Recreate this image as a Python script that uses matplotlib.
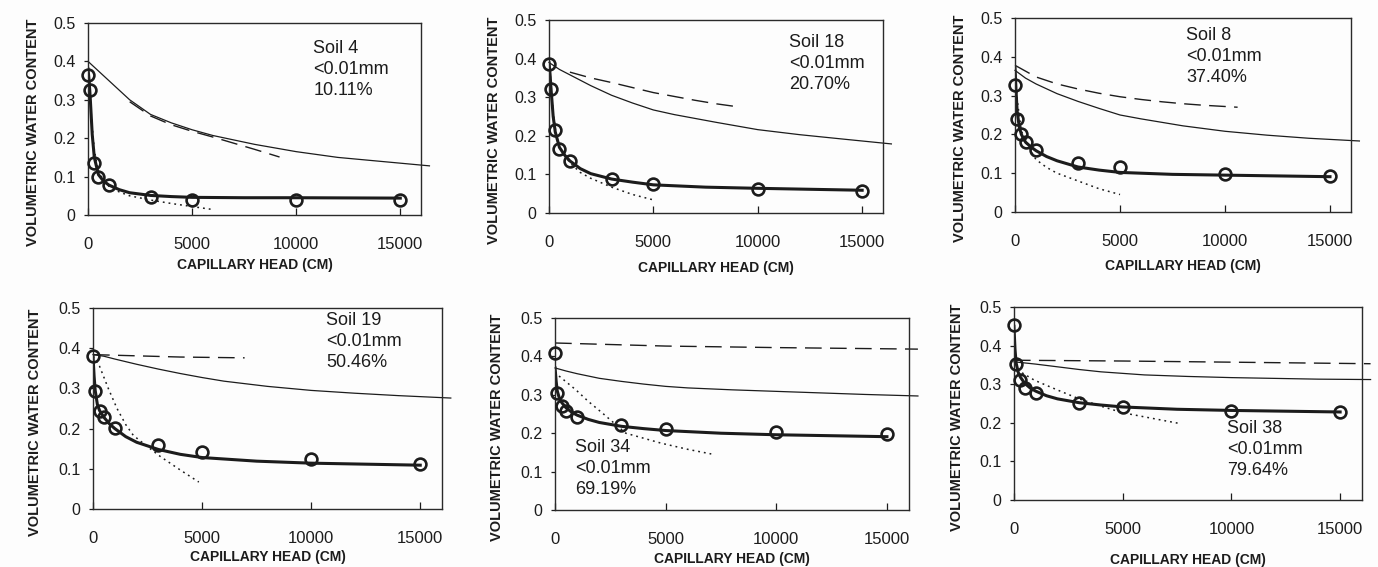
import matplotlib.pyplot as plt

# suction heads (cm) at which the water content was measured
H_OBS = [0, 100, 300, 500, 1000, 3000, 5000, 10000, 15000]
# heads for the fitted drying curve drawn through the measurements
H_FIT = [0, 50, 100, 200, 300, 500, 750, 1000, 1500, 2000, 3000, 4000, 5000, 7500, 10000, 15000]
# heads for the thin reference curve (it runs a little past the frame)
H_LINE = [0, 500, 1000, 2000, 3000, 4000, 5000, 6000, 8000, 10000, 12000, 14000, 16400]

SOIL_NAMES = ["Soil 4", "Soil 18", "Soil 8", "Soil 19", "Soil 34", "Soil 38"]
FINE_LIMIT = "<0.01mm"
FINE_FRACTION = ["10.11%", "20.70%", "37.40%", "50.46%", "69.19%", "79.64%"]

# Soil 4
soil4_obs = [0.365, 0.325, 0.135, 0.100, 0.078, 0.046, 0.040, 0.040, 0.040]
soil4_fit = [0.38, 0.35, 0.31, 0.21, 0.15, 0.105, 0.088, 0.078, 0.066, 0.058, 0.051, 0.048, 0.046, 0.045, 0.045, 0.044]
soil4_line = [0.40, 0.375, 0.35, 0.30, 0.262, 0.24, 0.222, 0.207, 0.184, 0.165, 0.15, 0.14, 0.128]
soil4_dash_h = [2000, 3000, 4000, 5000, 6000, 7000, 8000, 9200]
soil4_dash = [0.295, 0.258, 0.235, 0.218, 0.203, 0.187, 0.171, 0.151]
soil4_dot_h = [0, 100, 200, 300, 500, 1000, 1500, 2000, 3000, 4000, 5000, 5900]
soil4_dot = [0.37, 0.30, 0.23, 0.17, 0.11, 0.075, 0.06, 0.05, 0.039, 0.03, 0.022, 0.015]

# Soil 18
soil18_obs = [0.385, 0.32, 0.215, 0.165, 0.135, 0.088, 0.074, 0.062, 0.056]
soil18_fit = [0.39, 0.36, 0.32, 0.25, 0.21, 0.17, 0.15, 0.135, 0.115, 0.102, 0.088, 0.08, 0.073, 0.067, 0.064, 0.059]
soil18_line = [0.39, 0.372, 0.358, 0.33, 0.305, 0.285, 0.267, 0.255, 0.235, 0.216, 0.203, 0.192, 0.179]
soil18_dash_h = [1000, 2000, 3000, 4000, 5000, 6000, 7000, 8000, 9200]
soil18_dash = [0.365, 0.35, 0.338, 0.325, 0.312, 0.302, 0.292, 0.283, 0.274]
soil18_dot_h = [0, 100, 200, 350, 500, 1000, 1500, 2000, 3000, 4000, 5000]
soil18_dot = [0.40, 0.33, 0.26, 0.20, 0.17, 0.13, 0.105, 0.09, 0.067, 0.048, 0.034]

# Soil 8
soil8_obs = [0.327, 0.24, 0.20, 0.18, 0.16, 0.127, 0.115, 0.098, 0.092]
soil8_fit = [0.37, 0.31, 0.26, 0.22, 0.20, 0.18, 0.168, 0.158, 0.143, 0.132, 0.116, 0.108, 0.102, 0.097, 0.095, 0.091]
soil8_line = [0.365, 0.345, 0.33, 0.305, 0.285, 0.267, 0.25, 0.24, 0.222, 0.208, 0.198, 0.19, 0.183]
soil8_dash_h = [0, 1000, 2000, 3000, 4000, 5000, 6000, 7000, 8000, 9000, 10600]
soil8_dash = [0.378, 0.348, 0.33, 0.317, 0.306, 0.297, 0.29, 0.284, 0.279, 0.275, 0.27]
soil8_dot_h = [0, 100, 300, 500, 1000, 1500, 2000, 3000, 4000, 5000]
soil8_dot = [0.37, 0.29, 0.21, 0.18, 0.135, 0.115, 0.10, 0.08, 0.06, 0.045]

# Soil 19
soil19_obs = [0.381, 0.293, 0.243, 0.229, 0.201, 0.16, 0.141, 0.124, 0.113]
soil19_fit = [0.38, 0.33, 0.295, 0.26, 0.245, 0.228, 0.212, 0.20, 0.18, 0.166, 0.148, 0.136, 0.128, 0.119, 0.114, 0.109]
soil19_line = [0.384, 0.38, 0.373, 0.36, 0.348, 0.337, 0.327, 0.318, 0.305, 0.295, 0.288, 0.282, 0.276]
soil19_dash_h = [0, 2000, 4000, 6950]
soil19_dash = [0.384, 0.381, 0.378, 0.376]
soil19_dot_h = [0, 300, 700, 1100, 1500, 1850, 2500, 3100, 4000, 4850]
soil19_dot = [0.38, 0.355, 0.30, 0.25, 0.21, 0.183, 0.155, 0.13, 0.097, 0.067]

# Soil 34
soil34_obs = [0.41, 0.304, 0.271, 0.259, 0.243, 0.222, 0.21, 0.203, 0.198]
soil34_fit = [0.37, 0.335, 0.31, 0.29, 0.28, 0.266, 0.255, 0.247, 0.236, 0.228, 0.218, 0.212, 0.207, 0.20, 0.196, 0.191]
soil34_line = [0.37, 0.362, 0.355, 0.343, 0.335, 0.328, 0.322, 0.318, 0.313, 0.309, 0.305, 0.301, 0.297]
soil34_dash_h = [0, 5000, 10000, 16400]
soil34_dash = [0.435, 0.427, 0.423, 0.419]
soil34_dot_h = [0, 200, 940, 1500, 2150, 3200, 4800, 6000, 7060]
soil34_dot = [0.36, 0.348, 0.313, 0.283, 0.252, 0.20, 0.174, 0.158, 0.146]

# Soil 38
soil38_obs = [0.453, 0.353, 0.31, 0.289, 0.276, 0.25, 0.241, 0.231, 0.227]
soil38_fit = [0.45, 0.39, 0.355, 0.33, 0.318, 0.302, 0.29, 0.282, 0.27, 0.262, 0.252, 0.246, 0.241, 0.235, 0.232, 0.228]
soil38_line = [0.358, 0.355, 0.352, 0.345, 0.338, 0.332, 0.328, 0.324, 0.32, 0.317, 0.315, 0.313, 0.312]
soil38_dash_h = [0, 5000, 10000, 16400]
soil38_dash = [0.362, 0.36, 0.357, 0.353]
soil38_dot_h = [0, 180, 950, 2000, 2950, 4000, 5000, 6500, 7630]
soil38_dot = [0.35, 0.336, 0.31, 0.285, 0.263, 0.243, 0.226, 0.21, 0.198]

plt.rcParams['font.family'] = ['Liberation Sans', 'DejaVu Sans']
INK = '#1c1c1c'


def draw_panel(ax, obs, fit, line, dash_h, dash, dot_h, dot, name, frac, tx, ty, xlab_y):
    ax.set_facecolor('none')
    ax.plot(H_LINE, line, color=INK, lw=0.9, clip_on=False)
    ax.plot(dash_h, dash, color=INK, lw=1.0, ls=(0, (12, 6)), clip_on=False)
    ax.plot(dot_h, dot, color=INK, lw=1.1, ls=(0, (1.2, 2.6)))
    ax.plot(H_FIT, fit, color=INK, lw=2.2)
    ax.plot(H_OBS, obs, ls='none', marker='o', ms=8.5, mfc='none', mec=INK, mew=1.9,
            clip_on=False, zorder=4)

    ax.set_xlim(0, 16000)
    ax.set_ylim(0, 0.5)
    ax.set_xticks([0, 5000, 10000, 15000])
    ax.set_yticks([0, 0.1, 0.2, 0.3, 0.4, 0.5])
    ax.set_yticklabels(['0', '0.1', '0.2', '0.3', '0.4', '0.5'])
    ax.tick_params(axis='x', direction='in', length=5, width=0.9, pad=16, labelsize=12, colors=INK)
    ax.tick_params(axis='y', direction='out', length=3, width=0.9, pad=6, labelsize=11.5, colors=INK)
    for sp in ax.spines.values():
        sp.set_linewidth(1.0)
        sp.set_color('#2a2a2a')

    ax.set_xlabel("CAPILLARY HEAD (CM)", fontsize=10, fontweight='bold', color=INK, va='center')
    ax.set_ylabel("VOLUMETRIC WATER CONTENT", fontsize=10.5, fontweight='bold', color=INK, va='center')
    ax.xaxis.set_label_coords(0.5, xlab_y)
    ax.yaxis.set_label_coords(-0.165, 0.43)

    ax.text(tx, ty, name + "\n" + FINE_LIMIT + "\n" + frac, transform=ax.transAxes,
            ha='left', va='top', fontsize=13, linespacing=1.3, color=INK)


fig = plt.figure(figsize=(13.78, 5.67), dpi=100)
fig.patch.set_facecolor('#fdfdfd')

# panel boxes in figure fractions: left, bottom, width, height
boxes = [
    [0.0639, 0.6208, 0.2417, 0.3386],
    [0.3984, 0.6243, 0.2424, 0.3404],
    [0.7366, 0.6261, 0.2438, 0.3422],
    [0.0675, 0.1023, 0.2533, 0.3545],
    [0.4028, 0.1005, 0.2569, 0.3386],
    [0.7358, 0.1182, 0.2525, 0.3404],
]
label_pos = [(0.676, 0.91), (0.72, 0.925), (0.51, 0.955), (0.668, 0.98), (0.056, 0.37), (0.612, 0.415)]
xlabel_y = [-0.26, -0.285, -0.28, -0.24, -0.255, -0.31]

series = [
    (soil4_obs, soil4_fit, soil4_line, soil4_dash_h, soil4_dash, soil4_dot_h, soil4_dot),
    (soil18_obs, soil18_fit, soil18_line, soil18_dash_h, soil18_dash, soil18_dot_h, soil18_dot),
    (soil8_obs, soil8_fit, soil8_line, soil8_dash_h, soil8_dash, soil8_dot_h, soil8_dot),
    (soil19_obs, soil19_fit, soil19_line, soil19_dash_h, soil19_dash, soil19_dot_h, soil19_dot),
    (soil34_obs, soil34_fit, soil34_line, soil34_dash_h, soil34_dash, soil34_dot_h, soil34_dot),
    (soil38_obs, soil38_fit, soil38_line, soil38_dash_h, soil38_dash, soil38_dot_h, soil38_dot),
]

for i in range(6):
    ax = fig.add_axes(boxes[i])
    tx, ty = label_pos[i]
    draw_panel(ax, *series[i], SOIL_NAMES[i], FINE_FRACTION[i], tx, ty, xlabel_y[i])

fig.savefig('out.png', dpi=100, facecolor=fig.get_facecolor())
